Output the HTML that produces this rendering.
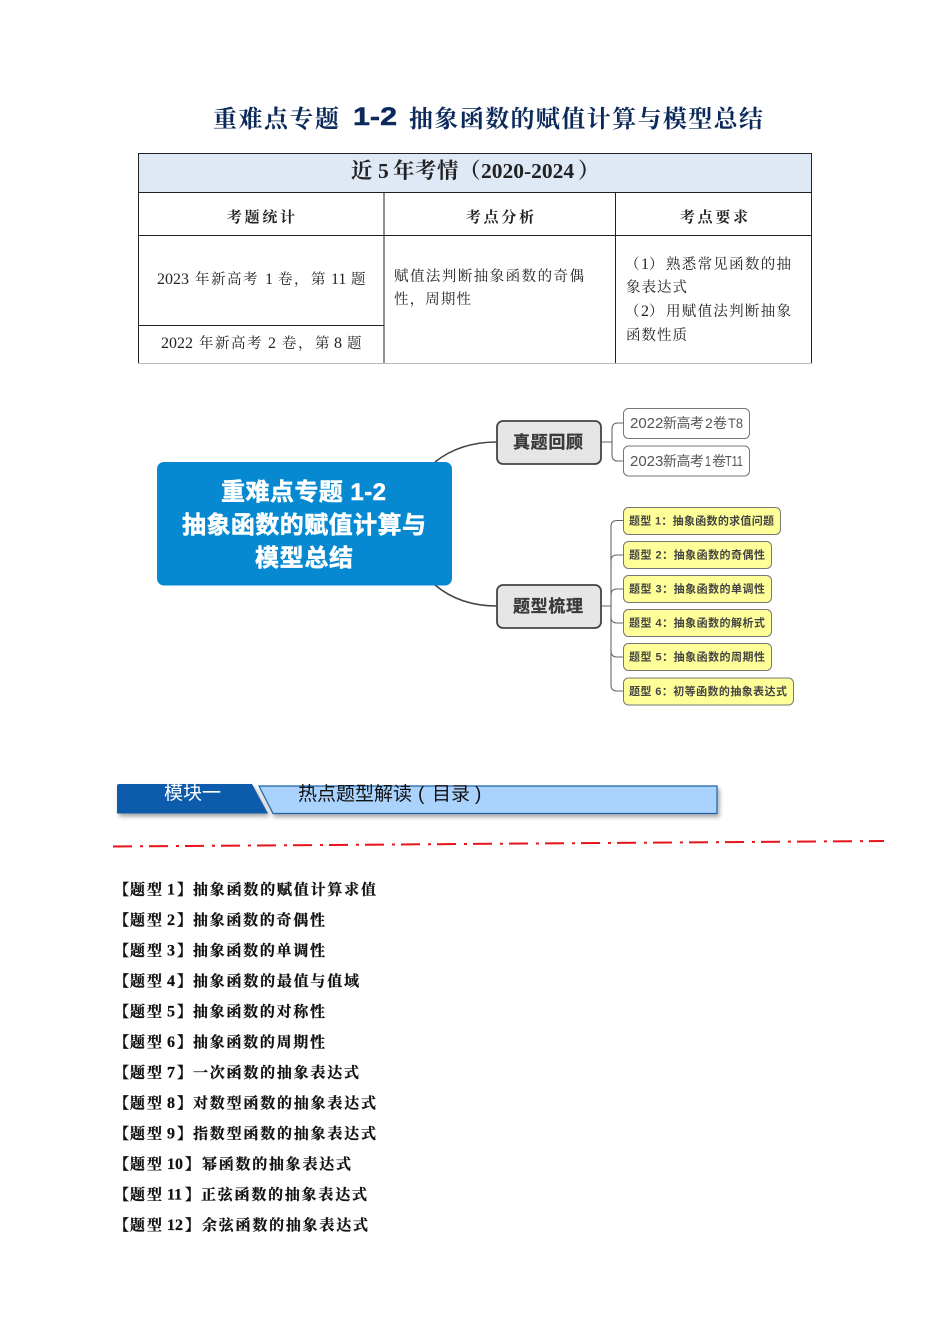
<!DOCTYPE html>
<html lang="zh"><head><meta charset="utf-8"><style>
html,body{margin:0;padding:0;background:#fff}svg{display:block}
.s{font-family:"Liberation Serif","Noto Serif CJK SC",serif}
.b{font-family:"Liberation Sans","Noto Sans CJK SC",sans-serif}
.l{font-family:"Liberation Serif","Noto Serif CJK SC",serif;font-size:15px;font-weight:700;fill:#111;stroke:#111;stroke-width:.25}
.n{font-size:16px}
.t{font-family:"Liberation Serif","Noto Serif CJK SC",serif;font-size:14.5px;fill:#222}
.d{font-size:16px}
.y{font-family:"Liberation Sans","Noto Sans CJK SC",sans-serif;font-size:11px;font-weight:700;fill:#444}
.w{font-family:"Liberation Sans","Noto Sans CJK SC",sans-serif;fill:#555}
</style></head><body>
<svg width="950" height="1344" viewBox="0 0 950 1344" xmlns="http://www.w3.org/2000/svg">
<defs><filter id="sh" x="-5%" y="-20%" width="110%" height="160%"><feDropShadow dx="2" dy="3" stdDeviation="2" flood-color="#000" flood-opacity=".35"/></filter></defs>
<rect width="950" height="1344" fill="#fff"/>

<!-- Title -->
<g fill="#0b2a5b" font-size="24" font-weight="700">
<text class="s" x="213" y="127" textLength="126" lengthAdjust="spacing">重难点专题</text>
<text class="b" x="353" y="125" font-size="25" stroke="#0b2a5b" stroke-width=".5" textLength="44" lengthAdjust="spacingAndGlyphs">1-2</text>
<text class="s" x="409" y="127" textLength="354" lengthAdjust="spacing">抽象函数的赋值计算与模型总结</text>
</g>

<!-- Table -->
<rect x="138.5" y="153.5" width="673" height="39" fill="#dee9f5"/>
<g stroke="#222" stroke-width="1" fill="none">
<path d="M138 153.5H812M138 192.5H812M138 235.5H812M138 325.5H384"/>
<path d="M138.5 153V364M811.5 153V364M384 192V364M615.5 192V364"/>
</g>
<path d="M138 363.5H812" stroke="#bbb" stroke-width="1"/>
<text class="s" y="178" font-size="21.5" font-weight="700" fill="#222"><tspan x="351">近</tspan><tspan x="378">5</tspan><tspan x="393">年</tspan><tspan x="415">考</tspan><tspan x="437">情</tspan><tspan x="459">（</tspan><tspan x="481">2020-2024</tspan><tspan x="578">）</tspan></text>
<g class="s" font-size="15" font-weight="700" fill="#222">
<text x="227" y="222" textLength="68" lengthAdjust="spacing">考题统计</text>
<text x="466" y="222" textLength="68" lengthAdjust="spacing">考点分析</text>
<text x="680" y="222" textLength="68" lengthAdjust="spacing">考点要求</text>
</g>
<text class="t" y="284"><tspan class="d" x="157">2023</tspan><tspan x="195">年</tspan><tspan x="211">新</tspan><tspan x="227">高</tspan><tspan x="243">考</tspan><tspan class="d" x="265">1</tspan><tspan x="278">卷</tspan><tspan x="294">，</tspan><tspan x="311">第</tspan><tspan class="d" x="331">11</tspan><tspan x="351">题</tspan></text>
<text class="t" y="348"><tspan class="d" x="161">2022</tspan><tspan x="199">年</tspan><tspan x="215">新</tspan><tspan x="231">高</tspan><tspan x="247">考</tspan><tspan class="d" x="268">2</tspan><tspan x="282">卷</tspan><tspan x="298">，</tspan><tspan x="315">第</tspan><tspan class="d" x="334">8</tspan><tspan x="347">题</tspan></text>
<text class="t" x="394" y="281" textLength="190" lengthAdjust="spacing">赋值法判断抽象函数的奇偶</text>
<text class="t" x="394" y="304" textLength="77" lengthAdjust="spacing">性，周期性</text>
<text class="t" y="269"><tspan x="625">（</tspan><tspan class="d" x="641">1</tspan><tspan x="649">）</tspan></text>
<text class="t" x="666" y="269" textLength="125" lengthAdjust="spacing">熟悉常见函数的抽</text>
<text class="t" x="626" y="292" textLength="61" lengthAdjust="spacing">象表达式</text>
<text class="t" y="316"><tspan x="625">（</tspan><tspan class="d" x="641">2</tspan><tspan x="649">）</tspan></text>
<text class="t" x="666" y="316" textLength="125" lengthAdjust="spacing">用赋值法判断抽象</text>
<text class="t" x="626" y="340" textLength="61" lengthAdjust="spacing">函数性质</text>

<!-- Mind map connectors -->
<g fill="none" stroke="#444" stroke-width="1.6">
<path d="M435 462Q460 442 497 442"/>
<path d="M435 585Q460 606 497 606"/>
</g>
<g fill="none" stroke="#666" stroke-width="1.1">
<path d="M601 442H612M624 423H618Q612 423 612 429V455Q612 461 618 461H624"/>
<path d="M601 606H611M624 520.5H617Q611 520.5 611 526.5V685Q611 691 617 691H624"/>
<path d="M611 561Q611 555 617 555H624M611 595Q611 589 617 589H624M611 617Q611 623 617 623H624M611 651Q611 657 617 657H624"/>
</g>

<!-- Root -->
<rect x="157" y="462" width="295" height="123.500" rx="7" fill="#0689d0"/>
<g class="b" fill="#fff" stroke="#fff" stroke-width=".5" font-size="24" font-weight="700">
<text x="221" y="500" textLength="165" lengthAdjust="spacing">重难点专题 1-2</text>
<text x="182" y="533" textLength="244" lengthAdjust="spacing">抽象函数的赋值计算与</text>
<text x="255" y="566" textLength="98" lengthAdjust="spacing">模型总结</text>
</g>

<!-- Branches -->
<g fill="#e6e6e6" stroke="#444" stroke-width="1.8">
<rect x="497" y="421" width="104" height="43" rx="6"/>
<rect x="497" y="585" width="104" height="43" rx="6"/>
</g>
<g class="b" font-size="17" font-weight="700" fill="#3a3a3a" stroke="#3a3a3a" stroke-width=".3">
<text x="513" y="448" textLength="70" lengthAdjust="spacing">真题回顾</text>
<text x="513" y="612" textLength="70" lengthAdjust="spacing">题型梳理</text>
</g>

<!-- White leaves -->
<g fill="#fff" stroke="#777" stroke-width="1">
<rect x="623.500" y="408.500" width="126" height="30" rx="5"/>
<rect x="623.500" y="446" width="126" height="30" rx="5"/>
</g>
<g class="w" font-size="14">
<text x="630" y="428" font-size="15">2022</text><text x="663" y="428" textLength="41" lengthAdjust="spacing">新高考</text><text x="705" y="428" font-size="14">2</text><text x="713" y="428">卷</text><text x="728" y="428" font-size="14" textLength="15" lengthAdjust="spacingAndGlyphs">T8</text>
<text x="630" y="466" font-size="15">2023</text><text x="663" y="466" textLength="41" lengthAdjust="spacing">新高考</text><text x="705" y="466" font-size="15" textLength="6" lengthAdjust="spacingAndGlyphs">1</text><text x="712" y="466">卷</text><text x="725" y="466" font-size="15" textLength="18" lengthAdjust="spacingAndGlyphs">T11</text>
</g>

<!-- Yellow leaves -->
<g fill="#ffff99" stroke="#777" stroke-width="1">
<rect x="623.500" y="507.500" width="157" height="27" rx="5"/>
<rect x="623.500" y="541.500" width="148" height="27" rx="5"/>
<rect x="623.500" y="575.500" width="148" height="27" rx="5"/>
<rect x="623.500" y="609.500" width="148" height="27" rx="5"/>
<rect x="623.500" y="643.500" width="148" height="27" rx="5"/>
<rect x="623.500" y="678" width="170" height="27" rx="5"/>
</g>
<text class="y" x="629" y="524.500" textLength="145" lengthAdjust="spacing">题型 1：抽象函数的求值问题</text>
<text class="y" x="629" y="558.500" textLength="136" lengthAdjust="spacing">题型 2：抽象函数的奇偶性</text>
<text class="y" x="629" y="592.500" textLength="136" lengthAdjust="spacing">题型 3：抽象函数的单调性</text>
<text class="y" x="629" y="626.500" textLength="136" lengthAdjust="spacing">题型 4：抽象函数的解析式</text>
<text class="y" x="629" y="660.500" textLength="136" lengthAdjust="spacing">题型 5：抽象函数的周期性</text>
<text class="y" x="629" y="695" textLength="158" lengthAdjust="spacing">题型 6：初等函数的抽象表达式</text>

<!-- Banner -->
<path d="M117 786Q117 784 119 784H252L268 813.500H117Z" fill="#0a5bab" filter="url(#sh)"/>
<polygon points="259,786 717,786 717,813.500 273,813.500" fill="#a9d3fc" stroke="#1f64a8" stroke-width="1.200" filter="url(#sh)"/>
<text class="b" x="164" y="799" font-size="19" fill="#fff" textLength="57" lengthAdjust="spacing">模块一</text>
<g class="b" font-size="19" fill="#111">
<text x="298" y="800" textLength="114" lengthAdjust="spacing">热点题型解读</text>
<text x="418" y="800">(</text>
<text x="432" y="800" textLength="38" lengthAdjust="spacing">目录</text>
<text x="475" y="800">)</text>
</g>

<!-- Red dash-dot line -->
<path d="M113 846.500L884 841" stroke="#e8141c" stroke-width="2" fill="none" stroke-dasharray="19 8 3 6"/>

<!-- List -->
<text class="l" y="894.500"><tspan x="114">【</tspan><tspan x="130">题</tspan><tspan x="147">型</tspan><tspan class="n" x="167">1</tspan><tspan x="177">】</tspan></text><text class="l" x="193" y="894.500" textLength="183" lengthAdjust="spacing">抽象函数的赋值计算求值</text>
<text class="l" y="925"><tspan x="114">【</tspan><tspan x="130">题</tspan><tspan x="147">型</tspan><tspan class="n" x="167">2</tspan><tspan x="177">】</tspan></text><text class="l" x="193" y="925" textLength="132" lengthAdjust="spacing">抽象函数的奇偶性</text>
<text class="l" y="955.500"><tspan x="114">【</tspan><tspan x="130">题</tspan><tspan x="147">型</tspan><tspan class="n" x="167">3</tspan><tspan x="177">】</tspan></text><text class="l" x="193" y="955.500" textLength="132" lengthAdjust="spacing">抽象函数的单调性</text>
<text class="l" y="986"><tspan x="114">【</tspan><tspan x="130">题</tspan><tspan x="147">型</tspan><tspan class="n" x="167">4</tspan><tspan x="177">】</tspan></text><text class="l" x="193" y="986" textLength="166" lengthAdjust="spacing">抽象函数的最值与值域</text>
<text class="l" y="1016.500"><tspan x="114">【</tspan><tspan x="130">题</tspan><tspan x="147">型</tspan><tspan class="n" x="167">5</tspan><tspan x="177">】</tspan></text><text class="l" x="193" y="1016.500" textLength="132" lengthAdjust="spacing">抽象函数的对称性</text>
<text class="l" y="1047"><tspan x="114">【</tspan><tspan x="130">题</tspan><tspan x="147">型</tspan><tspan class="n" x="167">6</tspan><tspan x="177">】</tspan></text><text class="l" x="193" y="1047" textLength="132" lengthAdjust="spacing">抽象函数的周期性</text>
<text class="l" y="1077.500"><tspan x="114">【</tspan><tspan x="130">题</tspan><tspan x="147">型</tspan><tspan class="n" x="167">7</tspan><tspan x="177">】</tspan></text><text class="l" x="193" y="1077.500" textLength="166" lengthAdjust="spacing">一次函数的抽象表达式</text>
<text class="l" y="1108"><tspan x="114">【</tspan><tspan x="130">题</tspan><tspan x="147">型</tspan><tspan class="n" x="167">8</tspan><tspan x="177">】</tspan></text><text class="l" x="193" y="1108" textLength="183" lengthAdjust="spacing">对数型函数的抽象表达式</text>
<text class="l" y="1138.500"><tspan x="114">【</tspan><tspan x="130">题</tspan><tspan x="147">型</tspan><tspan class="n" x="167">9</tspan><tspan x="177">】</tspan></text><text class="l" x="193" y="1138.500" textLength="183" lengthAdjust="spacing">指数型函数的抽象表达式</text>
<text class="l" y="1169"><tspan x="114">【</tspan><tspan x="130">题</tspan><tspan x="147">型</tspan><tspan class="n" x="167">10</tspan><tspan x="185">】</tspan></text><text class="l" x="202" y="1169" textLength="149" lengthAdjust="spacing">幂函数的抽象表达式</text>
<text class="l" y="1199.500"><tspan x="114">【</tspan><tspan x="130">题</tspan><tspan x="147">型</tspan><tspan class="n" x="167">11</tspan><tspan x="185">】</tspan></text><text class="l" x="201" y="1199.500" textLength="166" lengthAdjust="spacing">正弦函数的抽象表达式</text>
<text class="l" y="1230"><tspan x="114">【</tspan><tspan x="130">题</tspan><tspan x="147">型</tspan><tspan class="n" x="167">12</tspan><tspan x="185">】</tspan></text><text class="l" x="202" y="1230" textLength="166" lengthAdjust="spacing">余弦函数的抽象表达式</text>
</svg>
</body></html>
